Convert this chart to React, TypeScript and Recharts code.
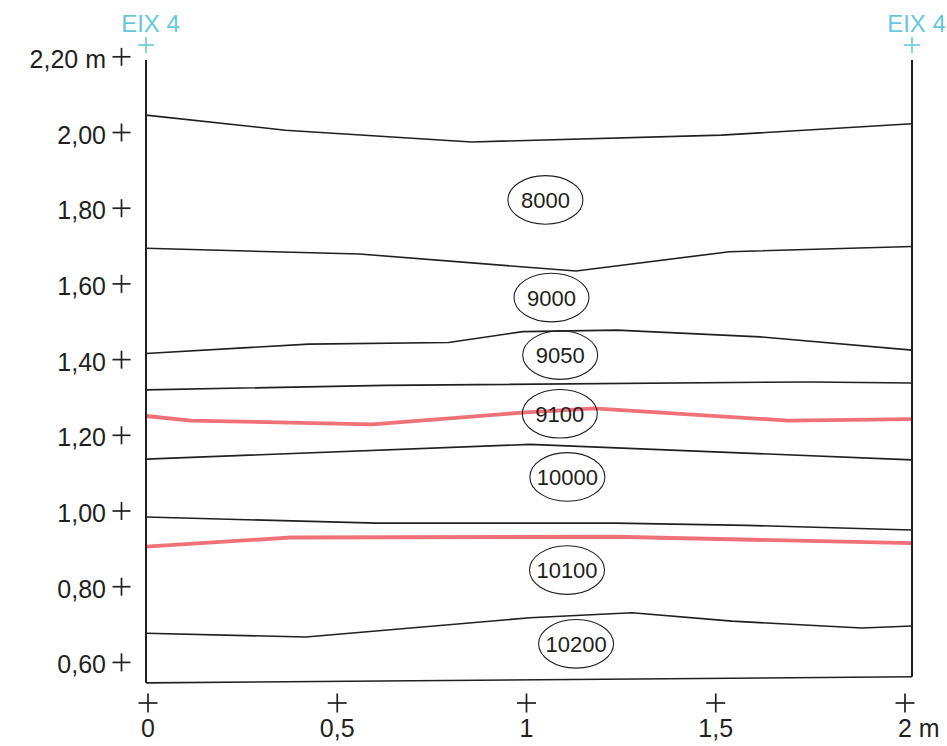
import React from 'react';
import { LineChart, Line, XAxis, YAxis, ReferenceLine, ReferenceDot } from 'recharts';

// Axis values (metres)
const xEdgeLeft = -0.0053;
const xEdgeRight = 2.0185;
const yEdgeTop = 2.1915;
const xDomain = [xEdgeLeft, xEdgeRight];
const yDomain = [0.5456, 2.2];

const xTicks = [0, 0.5, 1, 1.5, 2];
const xTickLabels = ['0', '0,5', '1', '1,5', '2 m'];
const yTicks = [0.6, 0.8, 1.0, 1.2, 1.4, 1.6, 1.8, 2.0, 2.2];
const yTickLabels = ['0,60', '0,80', '1,00', '1,20', '1,40', '1,60', '1,80', '2,00', '2,20 m'];

const axisTitle = 'EIX 4';

// Boundary lines: [x (m), height (m)]
const boundaryA = [[-0.0053, 2.046], [0.363, 2.006], [0.855, 1.975], [1.515, 1.993], [2.0185, 2.023]];
const boundaryB = [[-0.0053, 1.694], [0.5585, 1.679], [1.131, 1.634], [1.536, 1.685], [2.0185, 1.699]];
const boundaryC = [[-0.0053, 1.416], [0.424, 1.441], [0.794, 1.445], [0.99, 1.474], [1.239, 1.478], [1.617, 1.46], [2.0185, 1.425]];
const boundaryD = [[-0.0053, 1.32], [0.626, 1.332], [1.749, 1.341], [2.0185, 1.338]];
const redUpper = [[-0.0053, 1.251], [0.114, 1.239], [0.592, 1.229], [0.99, 1.26], [1.178, 1.271], [1.691, 1.239], [2.0185, 1.243]];
const boundaryE = [[-0.0053, 1.137], [1.009, 1.176], [2.0185, 1.135]];
const boundaryF = [[-0.0053, 0.984], [0.605, 0.968], [1.233, 0.968], [1.583, 0.962], [2.0185, 0.95]];
const redLower = [[-0.0053, 0.906], [0.377, 0.93], [1.233, 0.932], [2.0185, 0.915]];
const boundaryG = [[-0.0053, 0.677], [0.417, 0.667], [1.009, 0.718], [1.279, 0.731], [1.543, 0.709], [1.886, 0.691], [2.0185, 0.696]];
const boundaryBottom = [[-0.0053, 0.546], [2.0185, 0.562]];

// Zone labels
const zoneNames = ['8000', '9000', '9050', '9100', '10000', '10100', '10200'];
const zoneX = [1.05, 1.066, 1.089, 1.088, 1.108, 1.107, 1.131];
const zoneY = [1.822, 1.564, 1.412, 1.257, 1.09, 0.844, 0.649];

const INK = '#231f20';
const RED = '#f07177';
const CYAN = '#66c8dc';
const FONT = '"Liberation Sans", Arial, Helvetica, sans-serif';

const toPts = (arr: number[][]) => arr.map(([x, y]) => ({ x, y }));

const blackLines = [boundaryA, boundaryB, boundaryC, boundaryD, boundaryE, boundaryF, boundaryG, boundaryBottom];
const redLines = [redUpper, redLower];

const Cross = ({ cx, cy, h, color, w }: any) => (
  <g stroke={color} strokeWidth={w}>
    <line x1={cx - h} y1={cy} x2={cx + h} y2={cy} />
    <line x1={cx} y1={cy - h} x2={cx} y2={cy + h} />
  </g>
);

const YTick = (props: any) => {
  const { x, y, payload } = props;
  const i = yTicks.findIndex((t) => Math.abs(t - payload.value) < 1e-6);
  return (
    <g>
      <Cross cx={x - 24.5} cy={y} h={9} color={INK} w={1.7} />
      <text x={x - 40} y={y + 11} textAnchor="end" fontSize={25} fill={INK} fontFamily={FONT}>
        {yTickLabels[i]}
      </text>
    </g>
  );
};

const XTick = (props: any) => {
  const { x, y, payload } = props;
  const i = xTicks.findIndex((t) => Math.abs(t - payload.value) < 1e-6);
  const label = xTickLabels[i];
  const hasUnit = label.endsWith(' m');
  return (
    <g>
      <Cross cx={x} cy={y + 20} h={9.5} color={INK} w={1.7} />
      {hasUnit ? (
        <text x={x - 7} y={y + 54} textAnchor="start" fontSize={25} fill={INK} fontFamily={FONT}>
          {label}
        </text>
      ) : (
        <text x={x} y={y + 54} textAnchor="middle" fontSize={25} fill={INK} fontFamily={FONT}>
          {label}
        </text>
      )}
    </g>
  );
};

const EdgeShape = (props: any) => {
  const { x1, y1, x2, y2 } = props;
  const top = Math.min(y1, y2);
  return (
    <g>
      <line x1={x1} y1={y1} x2={x2} y2={y2} stroke={INK} strokeWidth={2} />
      <Cross cx={x1} cy={top - 15} h={8} color={CYAN} w={1.6} />
      <text x={x1 + 4.5} y={top - 28} textAnchor="middle" fontSize={24} fill={CYAN} fontFamily={FONT}>
        {axisTitle}
      </text>
    </g>
  );
};

const makeZoneShape = (name: string) => (props: any) => {
  const { cx, cy } = props;
  return (
    <g>
      <ellipse cx={cx} cy={cy} rx={37.5} ry={24.3} fill="none" stroke={INK} strokeWidth={1.1} />
      <text x={cx} y={cy + 8} textAnchor="middle" fontSize={22} fill={INK} fontFamily={FONT}>
        {name}
      </text>
    </g>
  );
};

export default function App() {
  return (
    <div style={{ position: 'absolute', left: 0, top: 0, width: 947, height: 746, background: '#fff' }}>
      <LineChart width={947} height={746} margin={{ top: 56.8, right: 35, bottom: 0, left: 0 }}>
        <XAxis
          type="number"
          dataKey="x"
          domain={xDomain}
          ticks={xTicks}
          interval={0}
          axisLine={false}
          tickLine={false}
          tickSize={0}
          tickMargin={0}
          height={63}
          tick={<XTick />}
        />
        <YAxis
          type="number"
          dataKey="y"
          domain={yDomain}
          ticks={yTicks}
          interval={0}
          axisLine={false}
          tickLine={false}
          tickSize={0}
          tickMargin={0}
          width={146}
          tick={<YTick />}
        />
        {blackLines.map((arr, i) => (
          <Line
            key={'b' + i}
            data={toPts(arr)}
            dataKey="y"
            type="linear"
            stroke={INK}
            strokeWidth={1.6}
            dot={false}
            activeDot={false}
            isAnimationActive={false}
          />
        ))}
        {redLines.map((arr, i) => (
          <Line
            key={'r' + i}
            data={toPts(arr)}
            dataKey="y"
            type="linear"
            stroke={RED}
            strokeWidth={3.8}
            dot={false}
            activeDot={false}
            isAnimationActive={false}
          />
        ))}
        <ReferenceLine
          segment={[{ x: xEdgeLeft, y: boundaryBottom[0][1] }, { x: xEdgeLeft, y: yEdgeTop }]}
          shape={EdgeShape}
        />
        <ReferenceLine
          segment={[{ x: xEdgeRight, y: boundaryBottom[1][1] }, { x: xEdgeRight, y: yEdgeTop }]}
          shape={EdgeShape}
        />
        {zoneNames.map((name, i) => (
          <ReferenceDot key={name} x={zoneX[i]} y={zoneY[i]} r={1} shape={makeZoneShape(name)} />
        ))}
      </LineChart>
    </div>
  );
}
